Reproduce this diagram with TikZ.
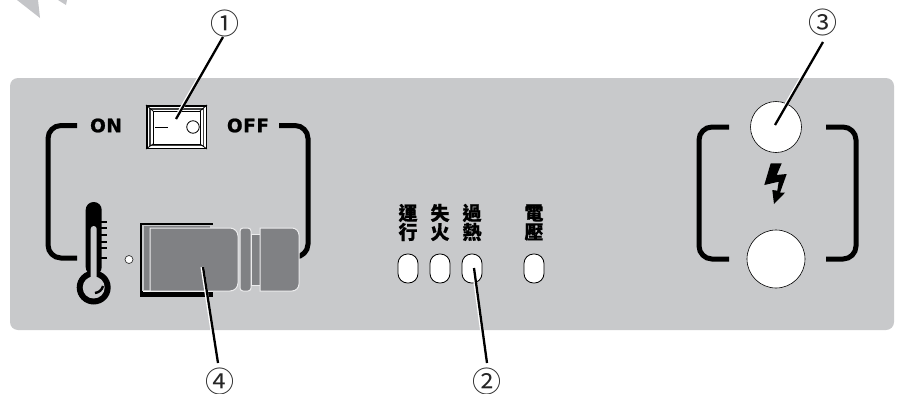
\documentclass[tikz,border=0pt]{standalone}
\usepackage{fontspec}
\newfontfamily\cjk[BoldFeatures={FakeBold=0.5}]{Noto Sans CJK TC}
\newfontfamily\lbl[BoldFeatures={FakeBold=1,LetterSpace=3}]{DejaVu Sans}
\newfontfamily\num{Noto Sans CJK JP}
\definecolor{panelgrey}{HTML}{C8C9CB}
\definecolor{bodygrey}{HTML}{808184}
\definecolor{fragmentgrey}{HTML}{C4C5C8}
\tikzset{
  bracket/.style={line width=5pt,rounded corners=13pt,line cap=butt},
  ledlamp/.style={draw=black,line width=0.8pt,fill=white,rounded corners=9.5pt,minimum width=20pt,minimum height=29pt,inner sep=0pt},
  lamp/.style={circle,draw=black,line width=0.6pt,fill=white,inner sep=0pt},
  callout/.style={font=\num\fontsize{29}{29}\selectfont,inner sep=0pt,text=black!85},
  kanji/.style={font=\cjk\bfseries\fontsize{19}{19.5}\selectfont,align=center,inner sep=0pt},
  onoff/.style={font=\lbl\bfseries\fontsize{18.5}{18.5}\selectfont,inner sep=0pt},
  halo/.style={white,line width=3.6pt},
  leader/.style={black,line width=2.3pt},
  bodypart/.style={fill=bodygrey,draw=white!85!bodygrey,line width=1pt}
}
\begin{document}
\begin{tikzpicture}[x=1pt,y=-1pt]
\useasboundingbox (0,0) rectangle (898,394);
% faint fragment at the top left
\fill[fragmentgrey] (17,0) -- (40,18) -- (38,0) -- cycle;
\fill[fragmentgrey] (58,0) -- (66,5) -- (67,0) -- cycle;
% panel
\fill[panelgrey,rounded corners=8pt] (10,78) rectangle (894,330);
% brackets left
\draw[bracket] (77,125.5) -- (48,125.5) -- (48,258) -- (77,258);
\draw[bracket] (279,125.5) -- (308,125.5) -- (308,257) -- (292,257);
\node[onoff] (on) at (106,125.5) {ON};
\node[onoff] (off) at (248,125.5) {OFF};
% rocker switch
\fill[black] (146,105) rectangle (207,149);
\fill[white] (147.5,106.5) rectangle (205.5,147.5);
\fill[black!75] (149,108) rectangle (204,146);
\fill[white] (150.5,109.5) rectangle (202.5,144.5);
\draw[black,line width=0.8pt] (153,111) rectangle (200,144);
\foreach \a/\b/\c/\d in {146/105/153/111,207/105/200/111,146/149/153/144,207/149/200/144}
  \draw[black,line width=0.8pt] (\a,\b) -- (\c,\d);
\draw[black,line width=0.8pt] (155,127) -- (168,127);
\node[circle,draw=black,line width=0.8pt,inner sep=0pt,minimum size=12.5pt] (rock) at (193,127) {};
% thermometer
\fill[black,rounded corners=7.9pt] (85.7,202) rectangle (101.7,275);
\fill[black] (93.7,287.5) circle (17);
\fill[panelgrey] (93.7,287.5) circle (11);
\fill[panelgrey,rounded corners=2.9pt] (90.7,226) rectangle (96.7,282);
\draw[black,line width=2.4pt] (95,293) .. controls (99,292.5) and (102,290) .. (103,286);
\foreach \y in {222,228,235,242,248,258}
  \draw[black,line width=2.2pt] (101,\y) -- (107,\y);
% pilot
\node[circle,draw=black!80,line width=0.7pt,fill=white,minimum size=8pt,inner sep=0pt] (pilot) at (129,259.5) {};
% fuse holder
\fill[black] (140,223) rectangle (213,297);
\fill[panelgrey] (141.5,224.5) rectangle (207,291);
\fill[panelgrey] (142,225) rectangle (213,228);
\draw[white,line width=1pt] (143,291.5) -- (213,291.5);
\fill[bodygrey] (143.5,226) rectangle (210,290);
\draw[bodypart] (150,228) -- (230,228) arc[start angle=-90,end angle=0,radius=8] -- (238,283) arc[start angle=0,end angle=90,radius=8] -- (150,291) -- cycle;
\draw[bodypart,rounded corners=3pt] (240,228) rectangle (251,291);
\draw[bodypart] (251,234) rectangle (260,285);
\draw[bodypart] (260,228) -- (292,228) arc[start angle=-90,end angle=0,radius=7] -- (299,284) arc[start angle=0,end angle=90,radius=7] -- (260,291) -- cycle;
% lamps
\node[ledlamp] (ledA) at (408,268.5) {};
\node[ledlamp] (ledB) at (440,268.5) {};
\node[ledlamp] (ledC) at (472,268.5) {};
\node[ledlamp] (ledD) at (534,268.5) {};
% labels
\node[kanji] (t1) at (408,222.5) {運\\[-0.5pt]行};
\node[kanji] (t2) at (440,222.5) {失\\[-0.5pt]火};
\node[kanji] (t3) at (472,222.5) {過\\[-0.5pt]熱};
\node[kanji] (t4) at (534,222.5) {電\\[-0.5pt]壓};
% right block
\draw[bracket] (729,127) -- (699,127) -- (699,259) -- (729,259);
\draw[bracket] (826,127) -- (856,127) -- (856,259) -- (826,259);
\node[lamp,minimum size=51pt] (up) at (776,127) {};
\node[lamp,minimum size=58pt] (down) at (776,259) {};
\fill[black] (770.7,163.3) -- (781.7,163.3) -- (776.7,175) -- (786.7,174) -- (780,192.7) -- (785,192.7) -- (774,204) -- (772.3,190) -- (777.3,190.7) -- (778.7,181.7) -- (764.3,185) -- cycle;
% callouts
\node[callout] (c1) at (225,23) {①};
\node[callout] (c2) at (487,381) {②};
\node[callout] (c3) at (823,22) {③};
\node[callout] (c4) at (220,381) {④};
\coordinate (a1) at (223,37);  \coordinate (b1) at (176,119);
\coordinate (a2) at (487,363); \coordinate (b2) at (474,268);
\coordinate (a3) at (823,42);  \coordinate (b3) at (775,125);
\coordinate (a4) at (218,363); \coordinate (b4) at (203,267);
\foreach \i in {1,2,3,4} {
  \draw[halo] ([xshift=-0.7pt]a\i) -- ([xshift=-0.7pt]b\i);
  \draw[leader] (a\i) -- (b\i);
}
\end{tikzpicture}
\end{document}
